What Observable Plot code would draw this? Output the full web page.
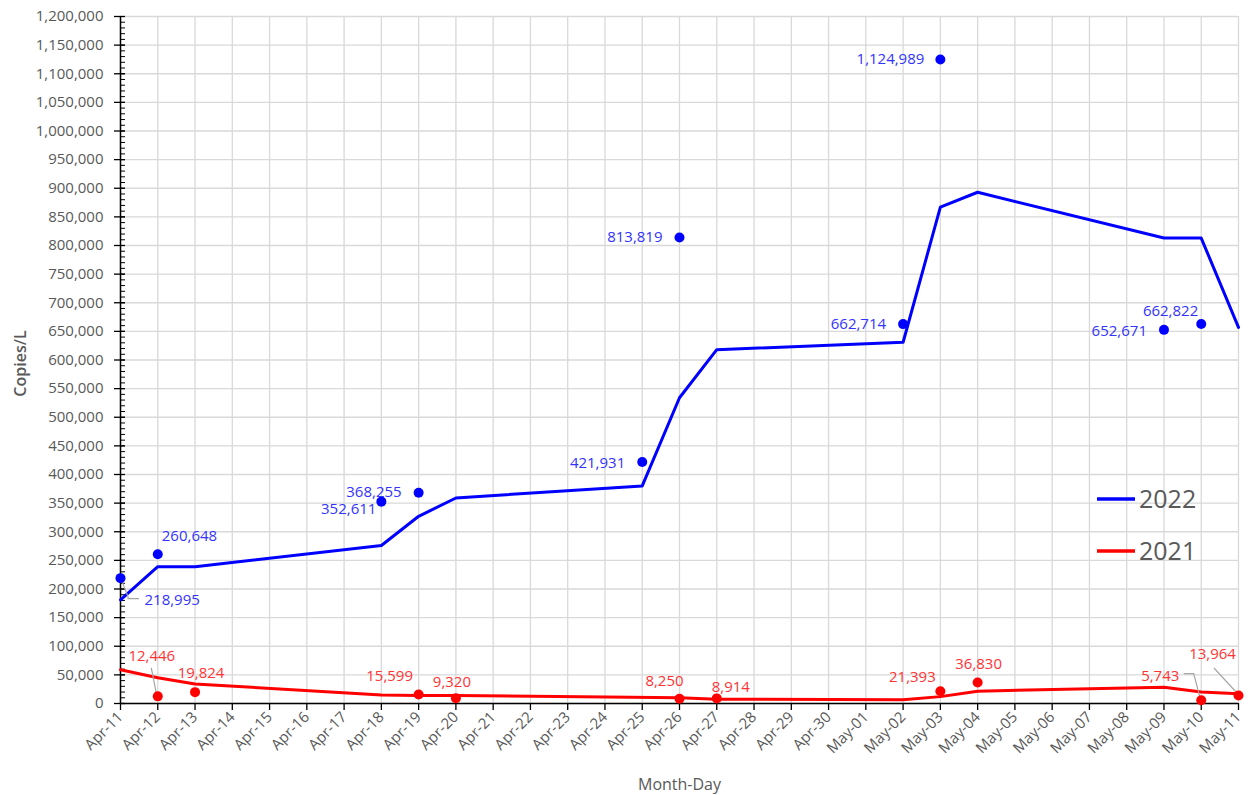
<!DOCTYPE html>
<html><head><meta charset="utf-8">
<script src="https://cdn.jsdelivr.net/npm/d3@7"></script>
<script src="https://cdn.jsdelivr.net/npm/@observablehq/plot@0.6"></script>
<style>body{margin:0;background:#fff;overflow:hidden;} #chart svg{display:block;}</style>
</head><body><div id="chart"></div>
<script>
// ---- Data ----
const days = ["Apr-11","Apr-12","Apr-13","Apr-14","Apr-15","Apr-16","Apr-17","Apr-18","Apr-19","Apr-20",
  "Apr-21","Apr-22","Apr-23","Apr-24","Apr-25","Apr-26","Apr-27","Apr-28","Apr-29","Apr-30",
  "May-01","May-02","May-03","May-04","May-05","May-06","May-07","May-08","May-09","May-10","May-11"];
const yTicks = d3.range(0, 1200001, 50000);
const yMinorTicks = d3.range(0, 1200001, 10000);
const seriesNames = ["2022", "2021"];
const xTitle = "Month-Day";
const yTitle = "Copies/L";

// trend lines (vertices)
const lineDays2022 = ["Apr-11","Apr-12","Apr-13","Apr-18","Apr-19","Apr-20","Apr-25","Apr-26","Apr-27","May-02","May-03","May-04","May-09","May-10","May-11"];
const lineValues2022 = [181000, 239000, 239000, 276000, 327000, 359000, 380000, 534000, 618000, 631000, 867000, 893000, 813000, 813000, 657000];
const lineDays2021 = ["Apr-11","Apr-12","Apr-13","Apr-18","Apr-19","Apr-20","Apr-26","Apr-27","May-02","May-03","May-04","May-09","May-10","May-11"];
const lineValues2021 = [59000, 45000, 34000, 15000, 14000, 14000, 10000, 7500, 6500, 12000, 21500, 28500, 20000, 17000];

// sample points
const pointDays2022 = ["Apr-11","Apr-12","Apr-18","Apr-19","Apr-25","Apr-26","May-02","May-03","May-09","May-10"];
const pointValues2022 = [218995, 260648, 352611, 368255, 421931, 813819, 662714, 1124989, 652671, 662822];
const pointDays2021 = ["Apr-12","Apr-13","Apr-19","Apr-20","Apr-26","Apr-27","May-03","May-04","May-10","May-11"];
const pointValues2021 = [12446, 19824, 15599, 9320, 8250, 8914, 21393, 36830, 5743, 13964];

// ---- Styling ----
const BLUE = "#0000ff", RED = "#ff0000", BLUE_TXT = "#3333ff", RED_TXT = "#ff3333";
const labelPlace2022 = [
  {a:"start", dx:24, dy:22}, {a:"start", dx:4, dy:-18}, {a:"end", dx:-5, dy:8}, {a:"end", dx:-17, dy:0},
  {a:"end", dx:-17, dy:1}, {a:"end", dx:-17, dy:0}, {a:"end", dx:-17, dy:0}, {a:"end", dx:-16, dy:0},
  {a:"end", dx:-17, dy:1}, {a:"end", dx:-3, dy:-13}];
const labelPlace2021 = [
  {a:"middle", dx:-6, dy:-40}, {a:"middle", dx:6, dy:-19}, {a:"middle", dx:-29, dy:-18}, {a:"middle", dx:-4, dy:-16},
  {a:"middle", dx:-15, dy:-18}, {a:"middle", dx:14, dy:-11}, {a:"middle", dx:-28, dy:-14}, {a:"middle", dx:1, dy:-18},
  {a:"middle", dx:-41, dy:-24}, {a:"middle", dx:-26, dy:-41}];

const toRows = (ds, vs) => ds.map((d, i) => ({day: d, value: vs[i]}));
const line2022 = toRows(lineDays2022, lineValues2022);
const line2021 = toRows(lineDays2021, lineValues2021);
const pts2022 = toRows(pointDays2022, pointValues2022);
const pts2021 = toRows(pointDays2021, pointValues2021);

// leader lines (pixel offsets from the point)
const leaders = [
  {row: pts2022[0], path: [[2,4],[8,19],[8,21],[19,21]]},
  {row: pts2021[0], path: [[-6,-28],[-1,-3]]},
  {row: pts2021[8], path: [[-17,-26],[-7,-26],[-1,-3]]},
  {row: pts2021[9], path: [[-24,-27],[-2,-3]]}
];

const fmt = d3.format(",");
const labelMarks = (rows, place, color) => rows.map((r, i) => Plot.text([r], {
  x: "day", y: "value", text: d => fmt(d.value), textAnchor: place[i].a,
  dx: place[i].dx, dy: place[i].dy, fill: color, fontSize: 15
}));

const chart = Plot.plot({
  width: 1248, height: 795,
  marginLeft: 120, marginRight: 10, marginTop: 16, marginBottom: 92,
  style: {fontFamily: "'Open Sans', 'Noto Sans', sans-serif", fontSize: "15px", color: "#595959", background: "#fff", overflow: "visible"},
  x: {type: "point", domain: days, padding: 0, round: false},
  y: {domain: [0, 1200000]},
  marks: [
    Plot.ruleX(days, {stroke: "#d9d9d9", strokeWidth: 1.3}),
    Plot.ruleY(yTicks, {stroke: "#d9d9d9", strokeWidth: 1.3}),
    Plot.ruleY(yMinorTicks, {x1: () => days[0], x2: () => days[0], insetRight: -5, stroke: "#000", strokeWidth: 1}),
    Plot.ruleY(yTicks, {x1: () => days[0], x2: () => days[0], insetLeft: -6, insetRight: -5, stroke: "#000", strokeWidth: 1.3}),
    Plot.axisY({ticks: yTicks, tickSize: 0, tickPadding: 17, tickFormat: fmt, label: null, fill: "#595959", fontSize: 15}),
    Plot.axisX({ticks: days, tickSize: 7, tickRotate: -45, tickPadding: 4, label: null, stroke: "#000", strokeWidth: 1.3, fill: "#595959", fontSize: 15}),
    Plot.ruleY([0], {stroke: "#000", strokeWidth: 1.5}),
    Plot.ruleX([days[0]], {stroke: "#000", strokeWidth: 1.5}),
    Plot.text([xTitle], {frameAnchor: "bottom", dy: 86, fontSize: 16, fill: "#595959"}),
    (index, scales, values, dims) => {
      const cy = dims.marginTop + (dims.height - dims.marginTop - dims.marginBottom) / 2 + 4;
      const g = d3.create("svg:g").attr("transform", `translate(20,${cy}) rotate(-90)`);
      g.append("text").attr("text-anchor", "middle").attr("dy", "0.35em")
        .attr("font-size", 16).attr("font-weight", 600).attr("fill", "#595959").text(yTitle);
      return g.node();
    },
    Plot.line(line2021, {x: "day", y: "value", stroke: RED, strokeWidth: 3}),
    Plot.line(line2022, {x: "day", y: "value", stroke: BLUE, strokeWidth: 3}),
    (index, scales) => {
      const g = d3.create("svg:g");
      for (const L of leaders) {
        const px = scales.x(L.row.day), py = scales.y(L.row.value);
        g.append("polyline")
          .attr("points", L.path.map(([dx, dy]) => `${px + dx},${py + dy}`).join(" "))
          .attr("fill", "none").attr("stroke", "#a6a6a6").attr("stroke-width", 1.2);
      }
      return g.node();
    },
    Plot.dot(pts2021, {x: "day", y: "value", r: 5, fill: RED}),
    Plot.dot(pts2022, {x: "day", y: "value", r: 5, fill: BLUE}),
    ...labelMarks(pts2022, labelPlace2022, BLUE_TXT),
    ...labelMarks(pts2021, labelPlace2021, RED_TXT),
    (index, scales, values, dims) => {
      const g = d3.create("svg:g");
      const colors = [BLUE, RED];
      const right = dims.width - dims.marginRight;
      seriesNames.forEach((name, i) => {
        const y = 499 + i * 52;
        g.append("line").attr("x1", right - 141).attr("x2", right - 103).attr("y1", y).attr("y2", y)
          .attr("stroke", colors[i]).attr("stroke-width", 3.5);
        g.append("text").attr("x", right - 99).attr("y", y).attr("dy", "0.36em")
          .attr("text-anchor", "start").attr("font-size", 25).attr("fill", "#595959").text(name);
      });
      return g.node();
    }
  ]
});
document.getElementById("chart").append(chart);
</script></body></html>
